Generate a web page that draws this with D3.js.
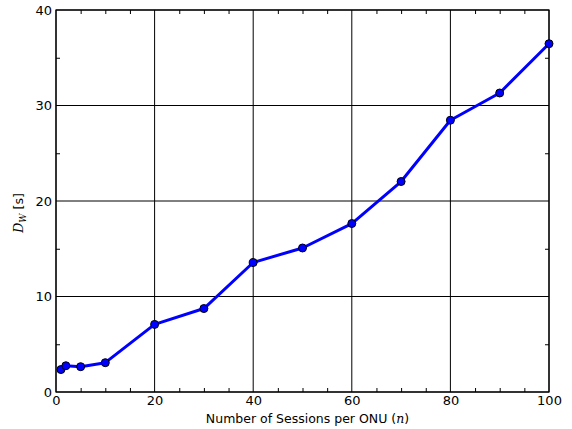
<!DOCTYPE html>
<html>
<head>
<meta charset="utf-8">
<script src="https://cdn.jsdelivr.net/npm/d3@7"></script>
<style>
  body { margin: 0; background: white; }
  svg { display: block; }
</style>
</head>
<body>
<script>
// data
const sessions = [1, 2, 5, 10, 20, 30, 40, 50, 60, 70, 80, 90, 100];
const delayW = [2.35, 2.75, 2.65, 3.07, 7.08, 8.74, 13.56, 15.08, 17.64, 22.04, 28.46, 31.31, 36.47];
const xTicks = [0, 20, 40, 60, 80, 100];
const yTicks = [0, 10, 20, 30, 40];

const width = 572, height = 429;
const marginTop = 10, marginRight = 23, marginBottom = 37, marginLeft = 56;

const x = d3.scaleLinear()
    .domain([0, 100])
    .range([marginLeft, width - marginRight]);

const y = d3.scaleLinear()
    .domain([0, 40])
    .range([height - marginBottom, marginTop]);

const svg = d3.select("body")
    .append("svg")
    .attr("width", width)
    .attr("height", height)
    .style("font-family", "DejaVu Sans");

// grid lines
svg.append("g")
    .selectAll("line")
    .data(xTicks)
    .join("line")
    .attr("x1", d => x(d)).attr("x2", d => x(d))
    .attr("y1", y(0)).attr("y2", y(40))
    .attr("stroke", "black")
    .attr("stroke-width", 1);

svg.append("g")
    .selectAll("line")
    .data(yTicks)
    .join("line")
    .attr("x1", x(0)).attr("x2", x(100))
    .attr("y1", d => y(d)).attr("y2", d => y(d))
    .attr("stroke", "black")
    .attr("stroke-width", 1);

// minor ticks on all sides, pointing inward
const xMinor = d3.range(5, 100, 5).filter(d => d % 20 !== 0);
const yMinor = d3.range(5, 40, 5).filter(d => d % 10 !== 0);

svg.append("g")
    .attr("transform", `translate(0,${y(0)})`)
    .call(d3.axisTop(x).tickValues(xMinor).tickSize(4).tickFormat(""))
    .call(g => g.select(".domain").remove());
svg.append("g")
    .attr("transform", `translate(0,${y(40)})`)
    .call(d3.axisBottom(x).tickValues(xMinor).tickSize(4).tickFormat(""))
    .call(g => g.select(".domain").remove());
svg.append("g")
    .attr("transform", `translate(${x(0)},0)`)
    .call(d3.axisRight(y).tickValues(yMinor).tickSize(4).tickFormat(""))
    .call(g => g.select(".domain").remove());
svg.append("g")
    .attr("transform", `translate(${x(100)},0)`)
    .call(d3.axisLeft(y).tickValues(yMinor).tickSize(4).tickFormat(""))
    .call(g => g.select(".domain").remove());

// tick labels
svg.append("g")
    .attr("transform", `translate(0,${y(0)})`)
    .call(d3.axisBottom(x).tickValues(xTicks).tickSize(0).tickPadding(4))
    .call(g => g.select(".domain").remove())
    .call(g => g.selectAll("text").attr("font-size", 13).attr("font-family", "DejaVu Sans").attr("fill", "black"));

svg.append("g")
    .attr("transform", `translate(${x(0)},0)`)
    .call(d3.axisLeft(y).tickValues(yTicks).tickSize(0).tickPadding(4))
    .call(g => g.select(".domain").remove())
    .call(g => g.selectAll("text").attr("font-size", 13).attr("font-family", "DejaVu Sans").attr("fill", "black"));

// frame
svg.append("rect")
    .attr("x", x(0)).attr("y", y(40))
    .attr("width", x(100) - x(0))
    .attr("height", y(0) - y(40))
    .attr("fill", "none")
    .attr("stroke", "black")
    .attr("stroke-width", 1.2);

// data line
const pts = sessions.map((n, i) => [n, delayW[i]]);
const line = d3.line()
    .x(d => x(d[0]))
    .y(d => y(d[1]));

svg.append("path")
    .datum(pts)
    .attr("fill", "none")
    .attr("stroke", "#0000ff")
    .attr("stroke-width", 3)
    .attr("stroke-linejoin", "round")
    .attr("d", line);

svg.append("g")
    .selectAll("circle")
    .data(pts)
    .join("circle")
    .attr("cx", d => x(d[0]))
    .attr("cy", d => y(d[1]))
    .attr("r", 4)
    .attr("fill", "#0000ff")
    .attr("stroke", "black")
    .attr("stroke-width", 1);

// axis labels
const xl = svg.append("text")
    .attr("x", x(50) + 5)
    .attr("y", 423)
    .attr("text-anchor", "middle")
    .attr("font-size", 12.5);
xl.append("tspan").text("Number of Sessions per ONU (");
xl.append("tspan").attr("font-family", "DejaVu Serif").attr("font-style", "italic").text("n");
xl.append("tspan").text(")");

const yl = svg.append("text")
    .attr("transform", `translate(23,213) rotate(-90)`)
    .attr("text-anchor", "middle")
    .attr("font-size", 12.5);
yl.append("tspan").attr("font-family", "DejaVu Serif").attr("font-style", "italic").text("D");
yl.append("tspan").attr("font-family", "DejaVu Serif").attr("font-style", "italic").attr("font-size", 9).attr("dy", 3).text("W");
yl.append("tspan").attr("dy", -3).text(" [s]");
</script>
</body>
</html>
